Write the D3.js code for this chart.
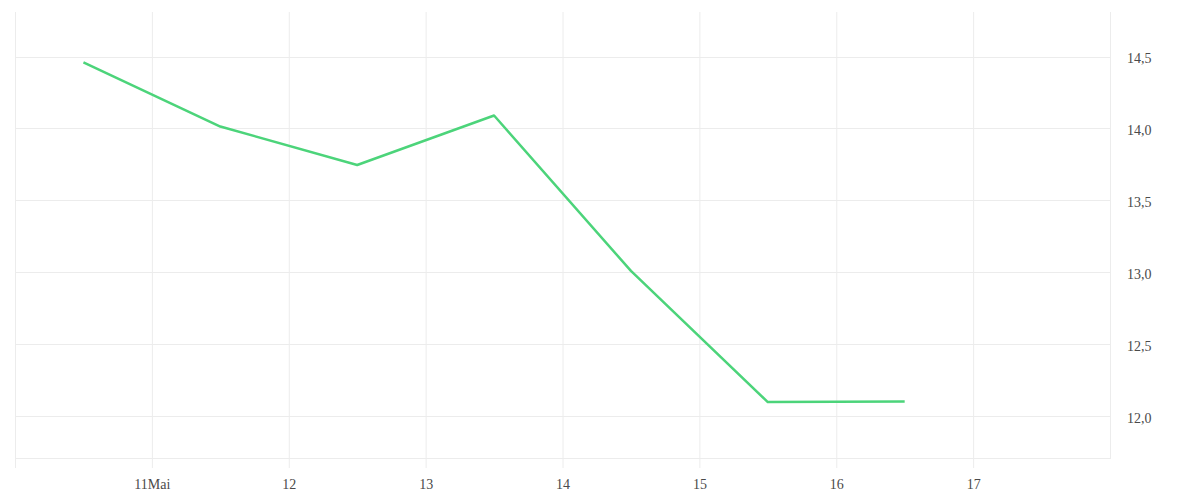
<!DOCTYPE html>
<html>
<head>
<meta charset="utf-8">
<script src="https://cdn.jsdelivr.net/npm/d3@7"></script>
<style>
  body { margin: 0; background: #fff; }
  svg text { font-family: "Liberation Serif", serif; font-size: 14px; fill: #4a4a4a; }
</style>
</head>
<body>
<svg id="chart" width="1200" height="500"></svg>
<script>
// data
const dates = ['2023-05-10T12:00', '2023-05-11T12:00', '2023-05-12T12:00', '2023-05-13T12:00',
    '2023-05-14T12:00', '2023-05-15T12:00', '2023-05-16T12:00']
const values = [14.46, 14.013, 13.745, 14.09, 13.008, 12.095, 12.10]
const yTicks = [12, 12.5, 13, 13.5, 14, 14.5]
const xTicks = ['2023-05-10', '2023-05-11', '2023-05-12', '2023-05-13',
    '2023-05-14', '2023-05-15', '2023-05-16', '2023-05-17']
const xLabels = ['', '11Mai', '12', '13', '14', '15', '16', '17']

const parse = d3.timeParse('%Y-%m-%dT%H:%M')
const parseDay = d3.timeParse('%Y-%m-%d')
const de = d3.formatLocale({ decimal: ',', thousands: '.', grouping: [3], currency: ['', ' €'] })
const fmt = de.format('.1f')

const mLeft = 15, mRight = 1110, mTop = 12, mBottom = 458

const x = d3.scaleTime()
    .domain([parseDay('2023-05-10'), parseDay('2023-05-18')])
    .range([mLeft, mRight])
const y = d3.scaleLinear()
    .domain([11.706, 14.81])
    .range([mBottom, mTop])

const svg = d3.select('#chart')
const grid = '#ececec'

// horizontal grid + right axis labels
const yAxis = svg.append('g')
    .attr('transform', `translate(${mRight},0)`)
    .call(d3.axisRight(y).tickValues(yTicks).tickSize(0).tickPadding(17).tickFormat(fmt))
yAxis.select('.domain').remove()
yAxis.selectAll('text').attr('dy', '0.45em')
svg.append('g').selectAll('line')
    .data(yTicks)
    .join('line')
    .attr('x1', mLeft).attr('x2', mRight)
    .attr('y1', d => Math.round(y(d)) + 0.5).attr('y2', d => Math.round(y(d)) + 0.5)
    .attr('stroke', grid)

// bottom frame line and right border
svg.append('line')
    .attr('x1', mLeft).attr('x2', mRight)
    .attr('y1', mBottom + 0.5).attr('y2', mBottom + 0.5)
    .attr('stroke', grid)
svg.append('line')
    .attr('x1', mRight + 0.5).attr('x2', mRight + 0.5)
    .attr('y1', mTop).attr('y2', mBottom + 1)
    .attr('stroke', grid)

// vertical grid that runs down into ticks, with day labels
const xAxis = svg.append('g')
    .attr('transform', `translate(0,${mBottom + 10})`)
    .call(d3.axisBottom(x)
        .tickValues(xTicks.map(parseDay))
        .tickSize(-(mBottom + 10 - mTop))
        .tickPadding(11)
        .tickFormat((d, i) => xLabels[i]))
xAxis.select('.domain').remove()
xAxis.selectAll('line').attr('stroke', grid)

// the series
const line = d3.line()
    .x((d, i) => x(parse(dates[i])))
    .y(d => y(d))

svg.append('path')
    .datum(values)
    .attr('fill', 'none')
    .attr('stroke', '#4cd47a')
    .attr('stroke-width', 2.5)
    .attr('stroke-linejoin', 'round')
    .attr('d', line)
</script>
</body>
</html>
